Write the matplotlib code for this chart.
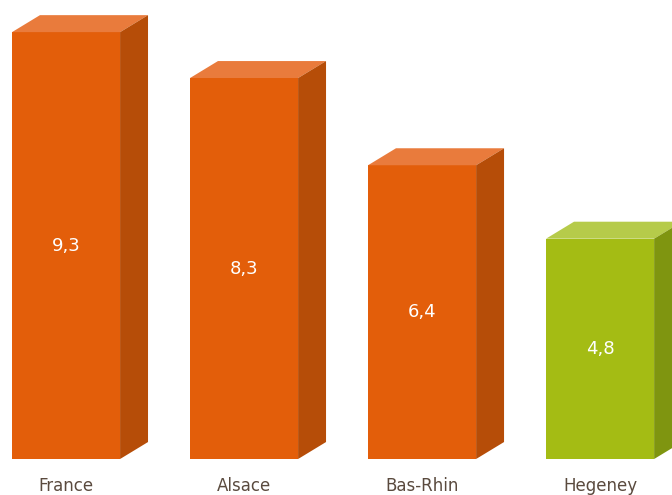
import matplotlib.pyplot as plt

categories = ["France", "Alsace", "Bas-Rhin", "Hegeney"]
values = [9.3, 8.3, 6.4, 4.8]
labels = ["9,3", "8,3", "6,4", "4,8"]

orange = ("#e35e0a", "#e97b3c", "#b64d08")
green = ("#a4bc14", "#b6cb4a", "#7f9510")
colors = [orange, orange, orange, green]

fig = plt.figure(figsize=(6.72, 4.95), dpi=100)
ax = fig.add_axes([0, 0, 1, 1])

w = 0.607   # bar width
dx = 0.157  # depth offset, x
dy = 0.37   # depth offset, y

for i, v in enumerate(values):
    front, top, side = colors[i]
    l, r = i - w / 2, i + w / 2
    ax.fill([l, r, r, l], [0, 0, v, v], color=front, lw=0)
    ax.fill([l, r, r + dx, l + dx], [v, v, v + dy, v + dy], color=top, lw=0)
    ax.fill([r, r + dx, r + dx, r], [0, dy, v + dy, v], color=side, lw=0)
    ax.text(i, v / 2, labels[i], color="white", fontsize=13,
            ha="center", va="center")
    ax.text(i, -0.58, categories[i], color="#5a4a3e", fontsize=12,
            ha="center", va="center")

ax.set_xlim(-0.371, 3.404)
ax.set_ylim(-0.784, 10.0)
ax.axis("off")

plt.savefig("out.png", dpi=100)
